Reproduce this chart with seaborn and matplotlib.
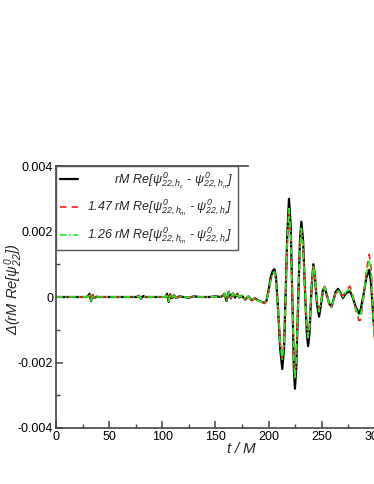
import numpy as np
import pandas as pd
import matplotlib
matplotlib.use("Agg")
import matplotlib.pyplot as plt
from matplotlib.ticker import MultipleLocator, FuncFormatter
import seaborn as sns

# --- data ---
t = [0, 28, 30, 31.5, 33, 34.5, 36, 38, 40, 50, 60, 76, 78, 80, 82, 84, 95,
     103, 104.5, 106, 107.5, 109, 111, 113, 116, 120, 125, 130, 135, 145, 150,
     155, 157, 158.5, 160.5, 162.5, 164.5, 166.5, 168.5, 170.5, 172.5, 175,
     178, 181, 184, 187, 190, 193, 196, 198, 200, 202, 204, 205.5, 207, 209,
     211, 212.9, 214.5, 216, 217.5, 219.2, 220.8, 222.5, 223.8, 224.8, 226,
     227.8, 229.5, 230.9, 232.5, 234.5, 236, 237.2, 238.5, 240.5, 242.1,
     243.5, 245.5, 247.5, 249.5, 251, 252.8, 254.5, 257, 259.2, 261, 263,
     265.4, 268, 270, 273, 276.5, 279, 282, 285, 286.5, 289, 292, 294.7,
     296.5, 298.5, 300, 303]

black = [0, 0, 0.00002, 0.0001, -0.00012, 0.00006, -0.00003, 0.00001, 0, 0,
         0, 0, 0.00004, -0.00005, 0.00003, 0, 0,
         0, 0.0001, -0.00015, 0.00008, -0.00004, 0.00005, -0.00003, 0.00002,
         0, -0.00002, 0.00002, 0, 0, 0.00002,
         0, 0.00004, 0.0001, -0.00012, 0.00016, -0.00004, 0.00011, -0.00002,
         0.0001, -0.00002, 0.00004,
         -0.00008, 0.00002, -0.0001, -0.00004, -0.0001, -0.00014, -0.00018,
         -0.00012, 0.0002, 0.0006, 0.0008, 0.00085, 0.0006, -0.0004,
         -0.0016, -0.0022, -0.0016, 0.0, 0.0018, 0.003, 0.0022, -0.0002,
         -0.0022, -0.0028, -0.0022,
         -0.0002, 0.0017, 0.0023, 0.0017, 0.0, -0.0011, -0.0015, -0.0011,
         0.0003, 0.001,
         0.0007, -0.0002, -0.0006, -0.0002, 0.0002, 0.0003, 0.0001, -0.0002,
         -0.0003, -0.0001, 0.00015,
         0.00025, 0.0001, -0.00003, 0.00012, 0.00018, 0.0, -0.0003, -0.0005,
         -0.0004, 0.0, 0.0006, 0.00083,
         0.0004, -0.0006, -0.0012, -0.0015]

red = [0, 0, 0.00001, 0.00009, -0.0001, 0.00007, -0.00002, 0.00001, 0, 0,
       0, 0, 0.00003, -0.00004, 0.00003, 0, 0,
       0, 0.00008, -0.00012, 0.00009, -0.00003, 0.00005, -0.00002, 0.00002,
       0, -0.00001, 0.00002, 0, 0, 0.00001,
       0, 0.00003, 0.00009, -0.0001, 0.00014, -0.00004, 0.0001, 0.0,
       0.00009, -0.00001, 0.00004,
       -0.00007, 0.00002, -0.0001, -0.00004, -0.00011, -0.00015, -0.0002,
       -0.00013, 0.00015, 0.0005, 0.0007, 0.00075, 0.0005, -0.0004,
       -0.0014, -0.00185, -0.0014, 0.0, 0.0016, 0.0026, 0.0019, -0.0002,
       -0.0019, -0.0024, -0.0019,
       -0.0002, 0.0015, 0.002, 0.0015, 0.0, -0.0009, -0.0012, -0.0009,
       0.0003, 0.00093,
       0.0007, -0.0001, -0.0004, -0.0001, 0.0002, 0.00032, 0.0001, -0.0002,
       -0.0003, -0.0001, 0.0001,
       0.00018, 0.00008, 0.00002, 0.0002, 0.00033, 0.0001, -0.0004, -0.00072,
       -0.0007, -0.0001, 0.0008, 0.0013,
       0.0009, -0.0006, -0.0014, -0.0018]

green = [0, 0, 0.00001, 0.00009, -0.00011, 0.00006, -0.00002, 0.00001, 0, 0,
         0, 0, 0.00003, -0.00004, 0.00002, 0, 0,
         0, 0.00009, -0.00013, 0.00008, -0.00003, 0.00004, -0.00002, 0.00002,
         0, -0.00001, 0.00001, 0, 0, 0.00001,
         0, 0.00003, 0.0001, -0.00011, 0.00015, -0.00004, 0.00011, -0.00001,
         0.0001, -0.00001, 0.00004,
         -0.00008, 0.00002, -0.0001, -0.00004, -0.00011, -0.00014, -0.00019,
         -0.00012, 0.00016, 0.00052, 0.00072, 0.00077, 0.00052, -0.0004,
         -0.00145, -0.0019, -0.00145, 0.0, 0.00165, 0.0027, 0.002, -0.0002,
         -0.002, -0.0025, -0.002,
         -0.0002, 0.00155, 0.0021, 0.00155, 0.0, -0.00095, -0.00125, -0.00095,
         0.0003, 0.00095,
         0.0007, -0.00012, -0.00045, -0.00012, 0.0002, 0.0003, 0.0001, -0.0002,
         -0.0003, -0.0001, 0.00012,
         0.0002, 0.00009, 0.0, 0.00016, 0.00026, 0.00005, -0.00035, -0.0006,
         -0.00058, -0.00005, 0.0007, 0.0011,
         0.0008, -0.0006, -0.0013, -0.0017]

labels = [
    "        " + r"$\mathit{rM\ Re}[\psi^{0}_{22,h_c}$ - $\psi^{0}_{22,h_m}]$",
    r"1.47 $\mathit{rM\ Re}[\psi^{0}_{22,h_m}$ - $\psi^{0}_{22,h_f}]$",
    r"1.26 $\mathit{rM\ Re}[\psi^{0}_{22,h_m}$ - $\psi^{0}_{22,h_f}]$",
]

sns.set_style("ticks")
plt.rcParams['font.family'] = ['Liberation Sans', 'DejaVu Sans']
plt.rcParams['font.style'] = 'italic'
plt.rcParams['mathtext.fontset'] = 'custom'
plt.rcParams['mathtext.rm'] = 'Liberation Sans:italic'
plt.rcParams['mathtext.it'] = 'Liberation Sans:italic'

fig = plt.figure(figsize=(3.74, 4.84), dpi=100)
# axes run past the right edge of the figure (cropped like the original)
ax = fig.add_axes([56 / 374, 56 / 484, 372 / 374, 262 / 484])

sns.lineplot(x=t, y=black, ax=ax, color='black', lw=1.6, label=labels[0], sort=False)
sns.lineplot(x=t, y=red, ax=ax, color='#ff1a1a', lw=1.2, label=labels[1],
             linestyle=(0, (4, 3)), sort=False)
sns.lineplot(x=t, y=green, ax=ax, color='#22ee22', lw=1.2, label=labels[2],
             linestyle=(0, (4, 1.5, 1, 1.5)), sort=False)

ax.set_xlim(0, 350)
ax.set_ylim(-0.004, 0.004)
ax.xaxis.set_major_locator(MultipleLocator(50))
ax.xaxis.set_minor_locator(MultipleLocator(25))
ax.yaxis.set_major_locator(MultipleLocator(0.002))
ax.yaxis.set_minor_locator(MultipleLocator(0.001))
ax.yaxis.set_major_formatter(FuncFormatter(lambda v, p: "0" if abs(v) < 1e-9 else f"{v:.3f}"))

spine_col = '#444444'
for s in ['left', 'bottom', 'top']:
    ax.spines[s].set_color(spine_col)
    ax.spines[s].set_linewidth(1.2)
ax.spines['right'].set_visible(False)
ax.spines['top'].set_bounds(0, 181)
ax.tick_params(which='both', direction='in', colors=spine_col, labelcolor='black',
               labelsize=9, top=False, right=False)
ax.tick_params(which='major', length=5, width=1.1, pad=2)
ax.tick_params(which='minor', length=3, width=1.0)
for lab in ax.get_xticklabels() + ax.get_yticklabels():
    lab.set_fontstyle('normal')

ax.set_xlabel(r"$t\ /\ M$", fontsize=11, labelpad=-1)
ax.set_ylabel(r"$\Delta(\mathit{rM\ Re}[\psi^{0}_{22}])$", fontsize=10.5)
ax.yaxis.set_label_coords(-0.082, 0.53)

leg = ax.legend(loc='upper left', bbox_to_anchor=(0, 1), borderaxespad=0,
                fontsize=9, frameon=True, fancybox=False, handlelength=1.4,
                handletextpad=0.7, labelspacing=0.6, borderpad=0.35)
leg.get_frame().set_edgecolor('#555555')
leg.get_frame().set_linewidth(1.0)
leg.get_frame().set_alpha(1)

fig.savefig("out.png", dpi=100)
